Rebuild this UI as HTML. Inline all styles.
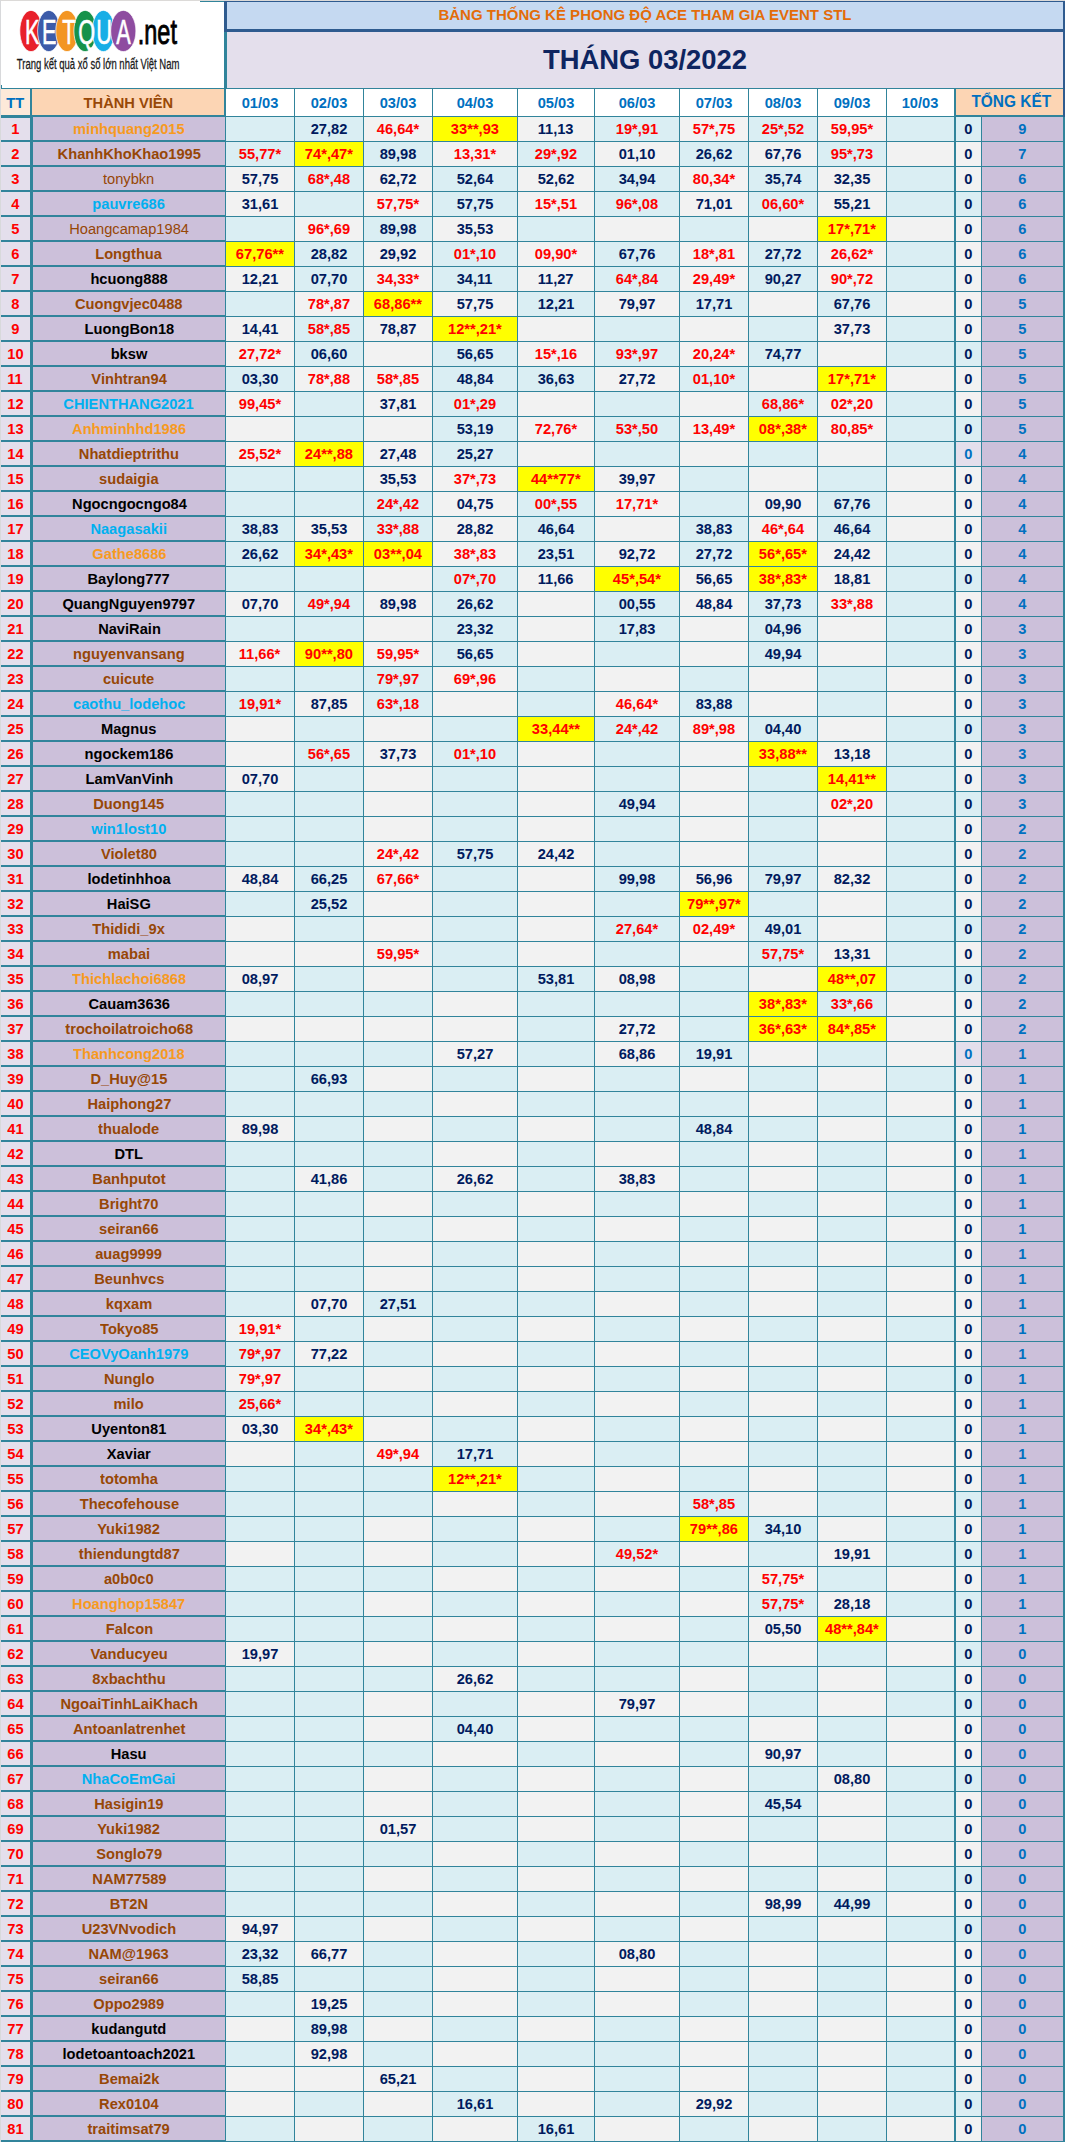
<!DOCTYPE html><html><head><meta charset="utf-8"><style>
body{margin:0;width:1065px;height:2142px;position:relative;overflow:hidden;background:#fff;font-family:"Liberation Sans",sans-serif}
div{position:absolute;box-sizing:border-box}
.r div{height:24px;line-height:24px;text-align:center;font-weight:bold;font-size:15.2px;white-space:nowrap;color:#001A5E}
.r{left:0;width:1065px;height:24px}
.n div{}
.B{background:#DAEEF3}.G{background:#F2F2F2}.Y{background:#FFFF00}.L{background:#E4DFEC}
.rd{color:#FF0000!important}
b{display:inline-block;transform:scaleX(.965);font-weight:inherit}
.k0{left:1px;width:29px}
.k1{left:33px;width:192px}
.k2{left:226px;width:68px}
.k3{left:295px;width:68px}
.k4{left:364px;width:68px}
.k5{left:433px;width:84px}
.k6{left:518px;width:76px}
.k7{left:595px;width:84px}
.k8{left:680px;width:68px}
.k9{left:749px;width:68px}
.k10{left:818px;width:68px}
.k11{left:887px;width:67px}
.k12{left:956px;width:25px}
.k13{left:982px;width:81px}
.k0{background:#E4DFEC;color:#FF0000!important;top:0;height:23px!important;line-height:23px!important}.k1{background:#CCC0DA;top:0;height:23px!important;line-height:23px!important}.f .k0{top:1px;height:22px!important;line-height:21px!important}.k13{background:#CCC0DA;color:#0070C0!important}
.cb{color:#0070C0!important}
</style></head><body><div style="left:0;top:0;width:1065px;height:1px;background:#DCDAD8"></div>
<div style="left:0;top:0;width:1px;height:2142px;background:#D8D9DB"></div>
<div style="left:1px;top:85px;width:1064px;height:2057px;background:#31849B"></div>
<div style="left:1px;top:1px;width:223px;height:87px;background:#fff"></div>
<div style="left:200px;top:1px;width:24px;height:1px;background:#31849B"></div>
<div style="left:224px;top:1px;width:841px;height:31px;background:#2F5B8F"></div>
<div style="left:227px;top:2px;width:836px;height:27px;background:#C5D9F1"></div>
<div style="left:224px;top:32px;width:3px;height:56px;background:#31849B"></div>
<div style="left:1063px;top:32px;width:2px;height:85px;background:#2F5B8F"></div>
<div style="left:227px;top:32px;width:836px;height:56px;background:#E4DFEC"></div>
<div style="left:227px;top:2px;width:836px;height:27px;line-height:25.6px;text-align:center;color:#E36C09;font-weight:bold;font-size:15px">BẢNG THỐNG KÊ PHONG ĐỘ ACE THAM GIA EVENT STL</div>
<div style="left:227px;top:32px;width:836px;height:56px;line-height:56px;text-align:center;color:#0E2560;font-weight:bold;font-size:27.4px">THÁNG 03/2022</div>
<div style="left:1px;top:89px;width:29px;height:26px;line-height:27.5px;background:#FDE9D9;color:#0070C0;text-align:center;font-weight:bold;font-size:15.2px;white-space:nowrap"><b>TT</b></div>
<div style="left:32px;top:89px;width:192px;height:26px;line-height:27.5px;background:#FCD5B4;color:#984807;text-align:center;font-weight:bold;font-size:15.2px;white-space:nowrap"><b>THÀNH VIÊN</b></div>
<div style="left:226px;top:89px;width:68px;height:27px;line-height:27.5px;background:#FFFFFF;color:#0070C0;text-align:center;font-weight:bold;font-size:15.2px;white-space:nowrap"><b>01/03</b></div>
<div style="left:295px;top:89px;width:68px;height:27px;line-height:27.5px;background:#FFFFFF;color:#0070C0;text-align:center;font-weight:bold;font-size:15.2px;white-space:nowrap"><b>02/03</b></div>
<div style="left:364px;top:89px;width:68px;height:27px;line-height:27.5px;background:#FFFFFF;color:#0070C0;text-align:center;font-weight:bold;font-size:15.2px;white-space:nowrap"><b>03/03</b></div>
<div style="left:433px;top:89px;width:84px;height:27px;line-height:27.5px;background:#FFFFFF;color:#0070C0;text-align:center;font-weight:bold;font-size:15.2px;white-space:nowrap"><b>04/03</b></div>
<div style="left:518px;top:89px;width:76px;height:27px;line-height:27.5px;background:#FFFFFF;color:#0070C0;text-align:center;font-weight:bold;font-size:15.2px;white-space:nowrap"><b>05/03</b></div>
<div style="left:595px;top:89px;width:84px;height:27px;line-height:27.5px;background:#FFFFFF;color:#0070C0;text-align:center;font-weight:bold;font-size:15.2px;white-space:nowrap"><b>06/03</b></div>
<div style="left:680px;top:89px;width:68px;height:27px;line-height:27.5px;background:#FFFFFF;color:#0070C0;text-align:center;font-weight:bold;font-size:15.2px;white-space:nowrap"><b>07/03</b></div>
<div style="left:749px;top:89px;width:68px;height:27px;line-height:27.5px;background:#FFFFFF;color:#0070C0;text-align:center;font-weight:bold;font-size:15.2px;white-space:nowrap"><b>08/03</b></div>
<div style="left:818px;top:89px;width:68px;height:27px;line-height:27.5px;background:#FFFFFF;color:#0070C0;text-align:center;font-weight:bold;font-size:15.2px;white-space:nowrap"><b>09/03</b></div>
<div style="left:887px;top:89px;width:67px;height:27px;line-height:27.5px;background:#FFFFFF;color:#0070C0;text-align:center;font-weight:bold;font-size:15.2px;white-space:nowrap"><b>10/03</b></div>
<div style="left:956px;top:89px;width:107px;height:26px;line-height:26px;background:#FCD5B4;color:#0070C0;text-align:center;font-weight:bold;font-size:15.2px;white-space:nowrap"><b><span style="letter-spacing:0;font-size:16px;padding-left:3px">TỔNG KẾT</span></b></div>
<div class="r f" style="top:117px"><div class="k0"><b>1</b></div><div class="k1" style="color:#F79A1E"><b>minhquang2015</b></div><div class="k2 B"></div><div class="k3 B"><b>27,82</b></div><div class="k4 G rd"><b>46,64*</b></div><div class="k5 Y rd"><b>33**,93</b></div><div class="k6 G"><b>11,13</b></div><div class="k7 B rd"><b>19*,91</b></div><div class="k8 G rd"><b>57*,75</b></div><div class="k9 B rd"><b>25*,52</b></div><div class="k10 G rd"><b>59,95*</b></div><div class="k11 B"></div><div class="k12 B"><b>0</b></div><div class="k13"><b>9</b></div></div>
<div class="r" style="top:142px"><div class="k0"><b>2</b></div><div class="k1" style="color:#974706"><b>KhanhKhoKhao1995</b></div><div class="k2 B rd"><b>55,77*</b></div><div class="k3 Y rd"><b>74*,47*</b></div><div class="k4 B"><b>89,98</b></div><div class="k5 G rd"><b>13,31*</b></div><div class="k6 B rd"><b>29*,92</b></div><div class="k7 G"><b>01,10</b></div><div class="k8 B"><b>26,62</b></div><div class="k9 G"><b>67,76</b></div><div class="k10 B rd"><b>95*,73</b></div><div class="k11 G"></div><div class="k12 G"><b>0</b></div><div class="k13"><b>7</b></div></div>
<div class="r" style="top:167px"><div class="k0"><b>3</b></div><div class="k1" style="color:#974706;font-weight:normal"><b>tonybkn</b></div><div class="k2 G"><b>57,75</b></div><div class="k3 B rd"><b>68*,48</b></div><div class="k4 G"><b>62,72</b></div><div class="k5 B"><b>52,64</b></div><div class="k6 G"><b>52,62</b></div><div class="k7 B"><b>34,94</b></div><div class="k8 G rd"><b>80,34*</b></div><div class="k9 B"><b>35,74</b></div><div class="k10 G"><b>32,35</b></div><div class="k11 B"></div><div class="k12 G"><b>0</b></div><div class="k13"><b>6</b></div></div>
<div class="r" style="top:192px"><div class="k0"><b>4</b></div><div class="k1" style="color:#00B0F0"><b>pauvre686</b></div><div class="k2 G"><b>31,61</b></div><div class="k3 B"></div><div class="k4 G rd"><b>57,75*</b></div><div class="k5 B"><b>57,75</b></div><div class="k6 G rd"><b>15*,51</b></div><div class="k7 B rd"><b>96*,08</b></div><div class="k8 G"><b>71,01</b></div><div class="k9 B rd"><b>06,60*</b></div><div class="k10 G"><b>55,21</b></div><div class="k11 B"></div><div class="k12 B"><b>0</b></div><div class="k13"><b>6</b></div></div>
<div class="r" style="top:217px"><div class="k0"><b>5</b></div><div class="k1" style="color:#974706;font-weight:normal"><b>Hoangcamap1984</b></div><div class="k2 B"></div><div class="k3 G rd"><b>96*,69</b></div><div class="k4 B"><b>89,98</b></div><div class="k5 G"><b>35,53</b></div><div class="k6 B"></div><div class="k7 G"></div><div class="k8 B"></div><div class="k9 G"></div><div class="k10 Y rd"><b>17*,71*</b></div><div class="k11 G"></div><div class="k12 G"><b>0</b></div><div class="k13"><b>6</b></div></div>
<div class="r" style="top:242px"><div class="k0"><b>6</b></div><div class="k1" style="color:#974706"><b>Longthua</b></div><div class="k2 Y rd"><b>67,76**</b></div><div class="k3 B"><b>28,82</b></div><div class="k4 G"><b>29,92</b></div><div class="k5 B rd"><b>01*,10</b></div><div class="k6 G rd"><b>09,90*</b></div><div class="k7 B"><b>67,76</b></div><div class="k8 G rd"><b>18*,81</b></div><div class="k9 B"><b>27,72</b></div><div class="k10 G rd"><b>26,62*</b></div><div class="k11 B"></div><div class="k12 G"><b>0</b></div><div class="k13"><b>6</b></div></div>
<div class="r" style="top:267px"><div class="k0"><b>7</b></div><div class="k1" style="color:#000000"><b>hcuong888</b></div><div class="k2 G"><b>12,21</b></div><div class="k3 B"><b>07,70</b></div><div class="k4 G rd"><b>34,33*</b></div><div class="k5 B"><b>34,11</b></div><div class="k6 G"><b>11,27</b></div><div class="k7 B rd"><b>64*,84</b></div><div class="k8 G rd"><b>29,49*</b></div><div class="k9 B"><b>90,27</b></div><div class="k10 G rd"><b>90*,72</b></div><div class="k11 B"></div><div class="k12 G"><b>0</b></div><div class="k13"><b>6</b></div></div>
<div class="r" style="top:292px"><div class="k0"><b>8</b></div><div class="k1" style="color:#974706"><b>Cuongvjec0488</b></div><div class="k2 B"></div><div class="k3 G rd"><b>78*,87</b></div><div class="k4 Y rd"><b>68,86**</b></div><div class="k5 G"><b>57,75</b></div><div class="k6 B"><b>12,21</b></div><div class="k7 G"><b>79,97</b></div><div class="k8 B"><b>17,71</b></div><div class="k9 G"></div><div class="k10 B"><b>67,76</b></div><div class="k11 G"></div><div class="k12 G"><b>0</b></div><div class="k13"><b>5</b></div></div>
<div class="r" style="top:317px"><div class="k0"><b>9</b></div><div class="k1" style="color:#000000"><b>LuongBon18</b></div><div class="k2 G"><b>14,41</b></div><div class="k3 B rd"><b>58*,85</b></div><div class="k4 G"><b>78,87</b></div><div class="k5 Y rd"><b>12**,21*</b></div><div class="k6 G"></div><div class="k7 B"></div><div class="k8 G"></div><div class="k9 B"></div><div class="k10 G"><b>37,73</b></div><div class="k11 B"></div><div class="k12 G"><b>0</b></div><div class="k13"><b>5</b></div></div>
<div class="r" style="top:342px"><div class="k0"><b>10</b></div><div class="k1" style="color:#000000"><b>bksw</b></div><div class="k2 G rd"><b>27,72*</b></div><div class="k3 B"><b>06,60</b></div><div class="k4 G"></div><div class="k5 B"><b>56,65</b></div><div class="k6 G rd"><b>15*,16</b></div><div class="k7 B rd"><b>93*,97</b></div><div class="k8 G rd"><b>20,24*</b></div><div class="k9 B"><b>74,77</b></div><div class="k10 G"></div><div class="k11 B"></div><div class="k12 B"><b>0</b></div><div class="k13"><b>5</b></div></div>
<div class="r" style="top:367px"><div class="k0"><b>11</b></div><div class="k1" style="color:#974706"><b>Vinhtran94</b></div><div class="k2 B"><b>03,30</b></div><div class="k3 G rd"><b>78*,88</b></div><div class="k4 G rd"><b>58*,85</b></div><div class="k5 B"><b>48,84</b></div><div class="k6 B"><b>36,63</b></div><div class="k7 G"><b>27,72</b></div><div class="k8 B rd"><b>01,10*</b></div><div class="k9 G"></div><div class="k10 Y rd"><b>17*,71*</b></div><div class="k11 G"></div><div class="k12 G"><b>0</b></div><div class="k13"><b>5</b></div></div>
<div class="r" style="top:392px"><div class="k0"><b>12</b></div><div class="k1" style="color:#00B0F0"><b>CHIENTHANG2021</b></div><div class="k2 G rd"><b>99,45*</b></div><div class="k3 B"></div><div class="k4 G"><b>37,81</b></div><div class="k5 B rd"><b>01*,29</b></div><div class="k6 G"></div><div class="k7 B"></div><div class="k8 G"></div><div class="k9 B rd"><b>68,86*</b></div><div class="k10 G rd"><b>02*,20</b></div><div class="k11 B"></div><div class="k12 G"><b>0</b></div><div class="k13"><b>5</b></div></div>
<div class="r" style="top:417px"><div class="k0"><b>13</b></div><div class="k1" style="color:#F79A1E"><b>Anhminhhd1986</b></div><div class="k2 G"></div><div class="k3 B"></div><div class="k4 G"></div><div class="k5 B"><b>53,19</b></div><div class="k6 G rd"><b>72,76*</b></div><div class="k7 B rd"><b>53*,50</b></div><div class="k8 G rd"><b>13,49*</b></div><div class="k9 Y rd"><b>08*,38*</b></div><div class="k10 G rd"><b>80,85*</b></div><div class="k11 B"></div><div class="k12 B"><b>0</b></div><div class="k13"><b>5</b></div></div>
<div class="r" style="top:442px"><div class="k0"><b>14</b></div><div class="k1" style="color:#974706"><b>Nhatdieptrithu</b></div><div class="k2 G rd"><b>25,52*</b></div><div class="k3 Y rd"><b>24**,88</b></div><div class="k4 G"><b>27,48</b></div><div class="k5 B"><b>25,27</b></div><div class="k6 G"></div><div class="k7 B"></div><div class="k8 G"></div><div class="k9 B"></div><div class="k10 G"></div><div class="k11 B"></div><div class="k12 L cb"><b>0</b></div><div class="k13"><b>4</b></div></div>
<div class="r" style="top:467px"><div class="k0"><b>15</b></div><div class="k1" style="color:#974706"><b>sudaigia</b></div><div class="k2 B"></div><div class="k3 B"></div><div class="k4 G"><b>35,53</b></div><div class="k5 G rd"><b>37*,73</b></div><div class="k6 Y rd"><b>44**77*</b></div><div class="k7 G"><b>39,97</b></div><div class="k8 B"></div><div class="k9 G"></div><div class="k10 B"></div><div class="k11 G"></div><div class="k12 G"><b>0</b></div><div class="k13"><b>4</b></div></div>
<div class="r" style="top:492px"><div class="k0"><b>16</b></div><div class="k1" style="color:#000000"><b>Ngocngocngo84</b></div><div class="k2 B"></div><div class="k3 B"></div><div class="k4 B rd"><b>24*,42</b></div><div class="k5 G"><b>04,75</b></div><div class="k6 B rd"><b>00*,55</b></div><div class="k7 G rd"><b>17,71*</b></div><div class="k8 B"></div><div class="k9 G"><b>09,90</b></div><div class="k10 B"><b>67,76</b></div><div class="k11 G"></div><div class="k12 G"><b>0</b></div><div class="k13"><b>4</b></div></div>
<div class="r" style="top:517px"><div class="k0"><b>17</b></div><div class="k1" style="color:#00B0F0"><b>Naagasakii</b></div><div class="k2 B"><b>38,83</b></div><div class="k3 G"><b>35,53</b></div><div class="k4 B rd"><b>33*,88</b></div><div class="k5 G"><b>28,82</b></div><div class="k6 B"><b>46,64</b></div><div class="k7 G"></div><div class="k8 B"><b>38,83</b></div><div class="k9 G rd"><b>46*,64</b></div><div class="k10 B"><b>46,64</b></div><div class="k11 G"></div><div class="k12 G"><b>0</b></div><div class="k13"><b>4</b></div></div>
<div class="r" style="top:542px"><div class="k0"><b>18</b></div><div class="k1" style="color:#F79A1E"><b>Gathe8686</b></div><div class="k2 B"><b>26,62</b></div><div class="k3 Y rd"><b>34*,43*</b></div><div class="k4 Y rd"><b>03**,04</b></div><div class="k5 G rd"><b>38*,83</b></div><div class="k6 B"><b>23,51</b></div><div class="k7 G"><b>92,72</b></div><div class="k8 B"><b>27,72</b></div><div class="k9 Y rd"><b>56*,65*</b></div><div class="k10 G"><b>24,42</b></div><div class="k11 B"></div><div class="k12 G"><b>0</b></div><div class="k13"><b>4</b></div></div>
<div class="r" style="top:567px"><div class="k0"><b>19</b></div><div class="k1" style="color:#000000"><b>Baylong777</b></div><div class="k2 B"></div><div class="k3 B"></div><div class="k4 G"></div><div class="k5 B rd"><b>07*,70</b></div><div class="k6 G"><b>11,66</b></div><div class="k7 Y rd"><b>45*,54*</b></div><div class="k8 G"><b>56,65</b></div><div class="k9 Y rd"><b>38*,83*</b></div><div class="k10 G"><b>18,81</b></div><div class="k11 B"></div><div class="k12 B"><b>0</b></div><div class="k13"><b>4</b></div></div>
<div class="r" style="top:592px"><div class="k0"><b>20</b></div><div class="k1" style="color:#000000"><b>QuangNguyen9797</b></div><div class="k2 G"><b>07,70</b></div><div class="k3 B rd"><b>49*,94</b></div><div class="k4 G"><b>89,98</b></div><div class="k5 B"><b>26,62</b></div><div class="k6 G"></div><div class="k7 B"><b>00,55</b></div><div class="k8 G"><b>48,84</b></div><div class="k9 B"><b>37,73</b></div><div class="k10 G rd"><b>33*,88</b></div><div class="k11 B"></div><div class="k12 G"><b>0</b></div><div class="k13"><b>4</b></div></div>
<div class="r" style="top:617px"><div class="k0"><b>21</b></div><div class="k1" style="color:#000000"><b>NaviRain</b></div><div class="k2 B"></div><div class="k3 B"></div><div class="k4 G"></div><div class="k5 B"><b>23,32</b></div><div class="k6 G"></div><div class="k7 B"><b>17,83</b></div><div class="k8 G"></div><div class="k9 B"><b>04,96</b></div><div class="k10 G"></div><div class="k11 B"></div><div class="k12 G"><b>0</b></div><div class="k13"><b>3</b></div></div>
<div class="r" style="top:642px"><div class="k0"><b>22</b></div><div class="k1" style="color:#974706"><b>nguyenvansang</b></div><div class="k2 G rd"><b>11,66*</b></div><div class="k3 Y rd"><b>90**,80</b></div><div class="k4 G rd"><b>59,95*</b></div><div class="k5 B"><b>56,65</b></div><div class="k6 G"></div><div class="k7 B"></div><div class="k8 G"></div><div class="k9 B"><b>49,94</b></div><div class="k10 G"></div><div class="k11 B"></div><div class="k12 G"><b>0</b></div><div class="k13"><b>3</b></div></div>
<div class="r" style="top:667px"><div class="k0"><b>23</b></div><div class="k1" style="color:#974706"><b>cuicute</b></div><div class="k2 B"></div><div class="k3 B"></div><div class="k4 B rd"><b>79*,97</b></div><div class="k5 G rd"><b>69*,96</b></div><div class="k6 B"></div><div class="k7 G"></div><div class="k8 B"></div><div class="k9 G"></div><div class="k10 B"></div><div class="k11 G"></div><div class="k12 G"><b>0</b></div><div class="k13"><b>3</b></div></div>
<div class="r" style="top:692px"><div class="k0"><b>24</b></div><div class="k1" style="color:#00B0F0"><b>caothu_lodehoc</b></div><div class="k2 B rd"><b>19,91*</b></div><div class="k3 G"><b>87,85</b></div><div class="k4 B rd"><b>63*,18</b></div><div class="k5 G"></div><div class="k6 B"></div><div class="k7 G rd"><b>46,64*</b></div><div class="k8 B"><b>83,88</b></div><div class="k9 G"></div><div class="k10 B"></div><div class="k11 G"></div><div class="k12 G"><b>0</b></div><div class="k13"><b>3</b></div></div>
<div class="r" style="top:717px"><div class="k0"><b>25</b></div><div class="k1" style="color:#000000"><b>Magnus</b></div><div class="k2 G"></div><div class="k3 B"></div><div class="k4 G"></div><div class="k5 B"></div><div class="k6 Y rd"><b>33,44**</b></div><div class="k7 B rd"><b>24*,42</b></div><div class="k8 G rd"><b>89*,98</b></div><div class="k9 B"><b>04,40</b></div><div class="k10 G"></div><div class="k11 B"></div><div class="k12 B"><b>0</b></div><div class="k13"><b>3</b></div></div>
<div class="r" style="top:742px"><div class="k0"><b>26</b></div><div class="k1" style="color:#000000"><b>ngockem186</b></div><div class="k2 G"></div><div class="k3 B rd"><b>56*,65</b></div><div class="k4 G"><b>37,73</b></div><div class="k5 B rd"><b>01*,10</b></div><div class="k6 G"></div><div class="k7 B"></div><div class="k8 G"></div><div class="k9 Y rd"><b>33,88**</b></div><div class="k10 G"><b>13,18</b></div><div class="k11 B"></div><div class="k12 G"><b>0</b></div><div class="k13"><b>3</b></div></div>
<div class="r" style="top:767px"><div class="k0"><b>27</b></div><div class="k1" style="color:#000000"><b>LamVanVinh</b></div><div class="k2 G"><b>07,70</b></div><div class="k3 B"></div><div class="k4 G"></div><div class="k5 B"></div><div class="k6 G"></div><div class="k7 B"></div><div class="k8 G"></div><div class="k9 B"></div><div class="k10 Y rd"><b>14,41**</b></div><div class="k11 B"></div><div class="k12 G"><b>0</b></div><div class="k13"><b>3</b></div></div>
<div class="r" style="top:792px"><div class="k0"><b>28</b></div><div class="k1" style="color:#974706"><b>Duong145</b></div><div class="k2 B"></div><div class="k3 B"></div><div class="k4 G"></div><div class="k5 B"></div><div class="k6 G"></div><div class="k7 B"><b>49,94</b></div><div class="k8 G"></div><div class="k9 B"></div><div class="k10 G rd"><b>02*,20</b></div><div class="k11 B"></div><div class="k12 B"><b>0</b></div><div class="k13"><b>3</b></div></div>
<div class="r" style="top:817px"><div class="k0"><b>29</b></div><div class="k1" style="color:#00B0F0"><b>win1lost10</b></div><div class="k2 B"></div><div class="k3 B"></div><div class="k4 G"></div><div class="k5 B"></div><div class="k6 G"></div><div class="k7 B"></div><div class="k8 G"></div><div class="k9 B"></div><div class="k10 G"></div><div class="k11 B"></div><div class="k12 G"><b>0</b></div><div class="k13"><b>2</b></div></div>
<div class="r" style="top:842px"><div class="k0"><b>30</b></div><div class="k1" style="color:#974706"><b>Violet80</b></div><div class="k2 B"></div><div class="k3 B"></div><div class="k4 G rd"><b>24*,42</b></div><div class="k5 B"><b>57,75</b></div><div class="k6 G"><b>24,42</b></div><div class="k7 B"></div><div class="k8 G"></div><div class="k9 B"></div><div class="k10 G"></div><div class="k11 B"></div><div class="k12 G"><b>0</b></div><div class="k13"><b>2</b></div></div>
<div class="r" style="top:867px"><div class="k0"><b>31</b></div><div class="k1" style="color:#000000"><b>lodetinhhoa</b></div><div class="k2 G"><b>48,84</b></div><div class="k3 B"><b>66,25</b></div><div class="k4 G rd"><b>67,66*</b></div><div class="k5 B"></div><div class="k6 G"></div><div class="k7 B"><b>99,98</b></div><div class="k8 G"><b>56,96</b></div><div class="k9 B"><b>79,97</b></div><div class="k10 G"><b>82,32</b></div><div class="k11 B"></div><div class="k12 G"><b>0</b></div><div class="k13"><b>2</b></div></div>
<div class="r" style="top:892px"><div class="k0"><b>32</b></div><div class="k1" style="color:#000000"><b>HaiSG</b></div><div class="k2 B"></div><div class="k3 B"><b>25,52</b></div><div class="k4 G"></div><div class="k5 B"></div><div class="k6 G"></div><div class="k7 B"></div><div class="k8 Y rd"><b>79**,97*</b></div><div class="k9 B"></div><div class="k10 G"></div><div class="k11 B"></div><div class="k12 G"><b>0</b></div><div class="k13"><b>2</b></div></div>
<div class="r" style="top:917px"><div class="k0"><b>33</b></div><div class="k1" style="color:#974706"><b>Thididi_9x</b></div><div class="k2 G"></div><div class="k3 B"></div><div class="k4 G"></div><div class="k5 B"></div><div class="k6 G"></div><div class="k7 B rd"><b>27,64*</b></div><div class="k8 G rd"><b>02,49*</b></div><div class="k9 B"><b>49,01</b></div><div class="k10 G"></div><div class="k11 B"></div><div class="k12 B"><b>0</b></div><div class="k13"><b>2</b></div></div>
<div class="r" style="top:942px"><div class="k0"><b>34</b></div><div class="k1" style="color:#974706"><b>mabai</b></div><div class="k2 G"></div><div class="k3 G"></div><div class="k4 G rd"><b>59,95*</b></div><div class="k5 B"></div><div class="k6 G"></div><div class="k7 B"></div><div class="k8 G"></div><div class="k9 B rd"><b>57,75*</b></div><div class="k10 G"><b>13,31</b></div><div class="k11 B"></div><div class="k12 G"><b>0</b></div><div class="k13"><b>2</b></div></div>
<div class="r" style="top:967px"><div class="k0"><b>35</b></div><div class="k1" style="color:#F79A1E"><b>Thichlachoi6868</b></div><div class="k2 G"><b>08,97</b></div><div class="k3 B"></div><div class="k4 G"></div><div class="k5 B"></div><div class="k6 B"><b>53,81</b></div><div class="k7 G"><b>08,98</b></div><div class="k8 B"></div><div class="k9 G"></div><div class="k10 Y rd"><b>48**,07</b></div><div class="k11 B"></div><div class="k12 B"><b>0</b></div><div class="k13"><b>2</b></div></div>
<div class="r" style="top:992px"><div class="k0"><b>36</b></div><div class="k1" style="color:#000000"><b>Cauam3636</b></div><div class="k2 B"></div><div class="k3 B"></div><div class="k4 B"></div><div class="k5 G"></div><div class="k6 B"></div><div class="k7 B"></div><div class="k8 B"></div><div class="k9 Y rd"><b>38*,83*</b></div><div class="k10 B rd"><b>33*,66</b></div><div class="k11 G"></div><div class="k12 G"><b>0</b></div><div class="k13"><b>2</b></div></div>
<div class="r" style="top:1017px"><div class="k0"><b>37</b></div><div class="k1" style="color:#974706"><b>trochoilatroicho68</b></div><div class="k2 G"></div><div class="k3 G"></div><div class="k4 G"></div><div class="k5 G"></div><div class="k6 B"></div><div class="k7 G"><b>27,72</b></div><div class="k8 B"></div><div class="k9 Y rd"><b>36*,63*</b></div><div class="k10 Y rd"><b>84*,85*</b></div><div class="k11 G"></div><div class="k12 G"><b>0</b></div><div class="k13"><b>2</b></div></div>
<div class="r" style="top:1042px"><div class="k0"><b>38</b></div><div class="k1" style="color:#F79A1E"><b>Thanhcong2018</b></div><div class="k2 B"></div><div class="k3 B"></div><div class="k4 B"></div><div class="k5 G"><b>57,27</b></div><div class="k6 B"></div><div class="k7 G"><b>68,86</b></div><div class="k8 B"><b>19,91</b></div><div class="k9 G"></div><div class="k10 B"></div><div class="k11 G"></div><div class="k12 L cb"><b>0</b></div><div class="k13"><b>1</b></div></div>
<div class="r" style="top:1067px"><div class="k0"><b>39</b></div><div class="k1" style="color:#974706"><b>D_Huy@15</b></div><div class="k2 B"></div><div class="k3 B"><b>66,93</b></div><div class="k4 G"></div><div class="k5 B"></div><div class="k6 G"></div><div class="k7 B"></div><div class="k8 G"></div><div class="k9 B"></div><div class="k10 G"></div><div class="k11 B"></div><div class="k12 G"><b>0</b></div><div class="k13"><b>1</b></div></div>
<div class="r" style="top:1092px"><div class="k0"><b>40</b></div><div class="k1" style="color:#974706"><b>Haiphong27</b></div><div class="k2 B"></div><div class="k3 B"></div><div class="k4 B"></div><div class="k5 G"></div><div class="k6 B"></div><div class="k7 B"></div><div class="k8 B"></div><div class="k9 G"></div><div class="k10 B"></div><div class="k11 G"></div><div class="k12 G"><b>0</b></div><div class="k13"><b>1</b></div></div>
<div class="r" style="top:1117px"><div class="k0"><b>41</b></div><div class="k1" style="color:#974706"><b>thualode</b></div><div class="k2 G"><b>89,98</b></div><div class="k3 B"></div><div class="k4 G"></div><div class="k5 B"></div><div class="k6 G"></div><div class="k7 B"></div><div class="k8 B"><b>48,84</b></div><div class="k9 B"></div><div class="k10 G"></div><div class="k11 B"></div><div class="k12 G"><b>0</b></div><div class="k13"><b>1</b></div></div>
<div class="r" style="top:1142px"><div class="k0"><b>42</b></div><div class="k1" style="color:#000000"><b>DTL</b></div><div class="k2 B"></div><div class="k3 B"></div><div class="k4 B"></div><div class="k5 G"></div><div class="k6 B"></div><div class="k7 G"></div><div class="k8 B"></div><div class="k9 G"></div><div class="k10 B"></div><div class="k11 G"></div><div class="k12 G"><b>0</b></div><div class="k13"><b>1</b></div></div>
<div class="r" style="top:1167px"><div class="k0"><b>43</b></div><div class="k1" style="color:#974706"><b>Banhputot</b></div><div class="k2 B"></div><div class="k3 G"><b>41,86</b></div><div class="k4 B"></div><div class="k5 G"><b>26,62</b></div><div class="k6 B"></div><div class="k7 G"><b>38,83</b></div><div class="k8 B"></div><div class="k9 G"></div><div class="k10 B"></div><div class="k11 G"></div><div class="k12 G"><b>0</b></div><div class="k13"><b>1</b></div></div>
<div class="r" style="top:1192px"><div class="k0"><b>44</b></div><div class="k1" style="color:#974706"><b>Bright70</b></div><div class="k2 B"></div><div class="k3 B"></div><div class="k4 G"></div><div class="k5 B"></div><div class="k6 G"></div><div class="k7 B"></div><div class="k8 G"></div><div class="k9 B"></div><div class="k10 G"></div><div class="k11 B"></div><div class="k12 G"><b>0</b></div><div class="k13"><b>1</b></div></div>
<div class="r" style="top:1217px"><div class="k0"><b>45</b></div><div class="k1" style="color:#974706"><b>seiran66</b></div><div class="k2 B"></div><div class="k3 B"></div><div class="k4 B"></div><div class="k5 G"></div><div class="k6 B"></div><div class="k7 G"></div><div class="k8 B"></div><div class="k9 G"></div><div class="k10 B"></div><div class="k11 G"></div><div class="k12 G"><b>0</b></div><div class="k13"><b>1</b></div></div>
<div class="r" style="top:1242px"><div class="k0"><b>46</b></div><div class="k1" style="color:#974706"><b>auag9999</b></div><div class="k2 B"></div><div class="k3 B"></div><div class="k4 G"></div><div class="k5 B"></div><div class="k6 G"></div><div class="k7 B"></div><div class="k8 G"></div><div class="k9 B"></div><div class="k10 G"></div><div class="k11 B"></div><div class="k12 G"><b>0</b></div><div class="k13"><b>1</b></div></div>
<div class="r" style="top:1267px"><div class="k0"><b>47</b></div><div class="k1" style="color:#974706"><b>Beunhvcs</b></div><div class="k2 B"></div><div class="k3 B"></div><div class="k4 G"></div><div class="k5 B"></div><div class="k6 G"></div><div class="k7 B"></div><div class="k8 B"></div><div class="k9 G"></div><div class="k10 B"></div><div class="k11 G"></div><div class="k12 G"><b>0</b></div><div class="k13"><b>1</b></div></div>
<div class="r" style="top:1292px"><div class="k0"><b>48</b></div><div class="k1" style="color:#974706"><b>kqxam</b></div><div class="k2 B"></div><div class="k3 G"><b>07,70</b></div><div class="k4 B"><b>27,51</b></div><div class="k5 B"></div><div class="k6 B"></div><div class="k7 G"></div><div class="k8 B"></div><div class="k9 G"></div><div class="k10 B"></div><div class="k11 G"></div><div class="k12 G"><b>0</b></div><div class="k13"><b>1</b></div></div>
<div class="r" style="top:1317px"><div class="k0"><b>49</b></div><div class="k1" style="color:#974706"><b>Tokyo85</b></div><div class="k2 G rd"><b>19,91*</b></div><div class="k3 B"></div><div class="k4 G"></div><div class="k5 B"></div><div class="k6 G"></div><div class="k7 B"></div><div class="k8 G"></div><div class="k9 B"></div><div class="k10 G"></div><div class="k11 B"></div><div class="k12 G"><b>0</b></div><div class="k13"><b>1</b></div></div>
<div class="r" style="top:1342px"><div class="k0"><b>50</b></div><div class="k1" style="color:#00B0F0"><b>CEOVyOanh1979</b></div><div class="k2 B rd"><b>79*,97</b></div><div class="k3 G"><b>77,22</b></div><div class="k4 B"></div><div class="k5 G"></div><div class="k6 B"></div><div class="k7 G"></div><div class="k8 B"></div><div class="k9 G"></div><div class="k10 B"></div><div class="k11 G"></div><div class="k12 G"><b>0</b></div><div class="k13"><b>1</b></div></div>
<div class="r" style="top:1367px"><div class="k0"><b>51</b></div><div class="k1" style="color:#974706"><b>Nunglo</b></div><div class="k2 G rd"><b>79*,97</b></div><div class="k3 B"></div><div class="k4 G"></div><div class="k5 B"></div><div class="k6 G"></div><div class="k7 B"></div><div class="k8 G"></div><div class="k9 B"></div><div class="k10 G"></div><div class="k11 B"></div><div class="k12 B"><b>0</b></div><div class="k13"><b>1</b></div></div>
<div class="r" style="top:1392px"><div class="k0"><b>52</b></div><div class="k1" style="color:#974706"><b>milo</b></div><div class="k2 B rd"><b>25,66*</b></div><div class="k3 B"></div><div class="k4 B"></div><div class="k5 G"></div><div class="k6 B"></div><div class="k7 G"></div><div class="k8 B"></div><div class="k9 G"></div><div class="k10 B"></div><div class="k11 G"></div><div class="k12 G"><b>0</b></div><div class="k13"><b>1</b></div></div>
<div class="r" style="top:1417px"><div class="k0"><b>53</b></div><div class="k1" style="color:#000000"><b>Uyenton81</b></div><div class="k2 G"><b>03,30</b></div><div class="k3 Y rd"><b>34*,43*</b></div><div class="k4 G"></div><div class="k5 B"></div><div class="k6 G"></div><div class="k7 B"></div><div class="k8 G"></div><div class="k9 B"></div><div class="k10 G"></div><div class="k11 B"></div><div class="k12 G"><b>0</b></div><div class="k13"><b>1</b></div></div>
<div class="r" style="top:1442px"><div class="k0"><b>54</b></div><div class="k1" style="color:#000000"><b>Xaviar</b></div><div class="k2 G"></div><div class="k3 B"></div><div class="k4 G rd"><b>49*,94</b></div><div class="k5 B"><b>17,71</b></div><div class="k6 G"></div><div class="k7 B"></div><div class="k8 G"></div><div class="k9 B"></div><div class="k10 B"></div><div class="k11 G"></div><div class="k12 G"><b>0</b></div><div class="k13"><b>1</b></div></div>
<div class="r" style="top:1467px"><div class="k0"><b>55</b></div><div class="k1" style="color:#974706"><b>totomha</b></div><div class="k2 B"></div><div class="k3 B"></div><div class="k4 B"></div><div class="k5 Y rd"><b>12**,21*</b></div><div class="k6 B"></div><div class="k7 G"></div><div class="k8 B"></div><div class="k9 G"></div><div class="k10 B"></div><div class="k11 G"></div><div class="k12 G"><b>0</b></div><div class="k13"><b>1</b></div></div>
<div class="r" style="top:1492px"><div class="k0"><b>56</b></div><div class="k1" style="color:#974706"><b>Thecofehouse</b></div><div class="k2 B"></div><div class="k3 B"></div><div class="k4 B"></div><div class="k5 G"></div><div class="k6 B"></div><div class="k7 G"></div><div class="k8 B rd"><b>58*,85</b></div><div class="k9 G"></div><div class="k10 B"></div><div class="k11 G"></div><div class="k12 B"><b>0</b></div><div class="k13"><b>1</b></div></div>
<div class="r" style="top:1517px"><div class="k0"><b>57</b></div><div class="k1" style="color:#974706"><b>Yuki1982</b></div><div class="k2 B"></div><div class="k3 B"></div><div class="k4 G"></div><div class="k5 B"></div><div class="k6 G"></div><div class="k7 B"></div><div class="k8 Y rd"><b>79**,86</b></div><div class="k9 B"><b>34,10</b></div><div class="k10 G"></div><div class="k11 B"></div><div class="k12 G"><b>0</b></div><div class="k13"><b>1</b></div></div>
<div class="r" style="top:1542px"><div class="k0"><b>58</b></div><div class="k1" style="color:#974706"><b>thiendungtd87</b></div><div class="k2 G"></div><div class="k3 B"></div><div class="k4 G"></div><div class="k5 B"></div><div class="k6 G"></div><div class="k7 B rd"><b>49,52*</b></div><div class="k8 G"></div><div class="k9 B"></div><div class="k10 G"><b>19,91</b></div><div class="k11 B"></div><div class="k12 B"><b>0</b></div><div class="k13"><b>1</b></div></div>
<div class="r" style="top:1567px"><div class="k0"><b>59</b></div><div class="k1" style="color:#974706"><b>a0b0c0</b></div><div class="k2 B"></div><div class="k3 B"></div><div class="k4 B"></div><div class="k5 G"></div><div class="k6 B"></div><div class="k7 G"></div><div class="k8 B"></div><div class="k9 G rd"><b>57,75*</b></div><div class="k10 B"></div><div class="k11 G"></div><div class="k12 G"><b>0</b></div><div class="k13"><b>1</b></div></div>
<div class="r" style="top:1592px"><div class="k0"><b>60</b></div><div class="k1" style="color:#F79A1E"><b>Hoanghop15847</b></div><div class="k2 B"></div><div class="k3 B"></div><div class="k4 G"></div><div class="k5 B"></div><div class="k6 G"></div><div class="k7 B"></div><div class="k8 G"></div><div class="k9 B rd"><b>57,75*</b></div><div class="k10 G"><b>28,18</b></div><div class="k11 B"></div><div class="k12 B"><b>0</b></div><div class="k13"><b>1</b></div></div>
<div class="r" style="top:1617px"><div class="k0"><b>61</b></div><div class="k1" style="color:#974706"><b>Falcon</b></div><div class="k2 B"></div><div class="k3 B"></div><div class="k4 B"></div><div class="k5 G"></div><div class="k6 B"></div><div class="k7 G"></div><div class="k8 B"></div><div class="k9 G"><b>05,50</b></div><div class="k10 Y rd"><b>48**,84*</b></div><div class="k11 G"></div><div class="k12 G"><b>0</b></div><div class="k13"><b>1</b></div></div>
<div class="r" style="top:1642px"><div class="k0"><b>62</b></div><div class="k1" style="color:#974706"><b>Vanducyeu</b></div><div class="k2 G"><b>19,97</b></div><div class="k3 B"></div><div class="k4 G"></div><div class="k5 B"></div><div class="k6 G"></div><div class="k7 B"></div><div class="k8 B"></div><div class="k9 G"></div><div class="k10 B"></div><div class="k11 G"></div><div class="k12 B"><b>0</b></div><div class="k13"><b>0</b></div></div>
<div class="r" style="top:1667px"><div class="k0"><b>63</b></div><div class="k1" style="color:#974706"><b>8xbachthu</b></div><div class="k2 B"></div><div class="k3 B"></div><div class="k4 B"></div><div class="k5 G"><b>26,62</b></div><div class="k6 B"></div><div class="k7 B"></div><div class="k8 G"></div><div class="k9 B"></div><div class="k10 G"></div><div class="k11 B"></div><div class="k12 G"><b>0</b></div><div class="k13"><b>0</b></div></div>
<div class="r" style="top:1692px"><div class="k0"><b>64</b></div><div class="k1" style="color:#974706"><b>NgoaiTinhLaiKhach</b></div><div class="k2 B"></div><div class="k3 B"></div><div class="k4 G"></div><div class="k5 B"></div><div class="k6 G"></div><div class="k7 G"><b>79,97</b></div><div class="k8 G"></div><div class="k9 B"></div><div class="k10 G"></div><div class="k11 B"></div><div class="k12 B"><b>0</b></div><div class="k13"><b>0</b></div></div>
<div class="r" style="top:1717px"><div class="k0"><b>65</b></div><div class="k1" style="color:#974706"><b>Antoanlatrenhet</b></div><div class="k2 B"></div><div class="k3 B"></div><div class="k4 G"></div><div class="k5 B"><b>04,40</b></div><div class="k6 G"></div><div class="k7 B"></div><div class="k8 B"></div><div class="k9 G"></div><div class="k10 B"></div><div class="k11 G"></div><div class="k12 G"><b>0</b></div><div class="k13"><b>0</b></div></div>
<div class="r" style="top:1742px"><div class="k0"><b>66</b></div><div class="k1" style="color:#000000"><b>Hasu</b></div><div class="k2 B"></div><div class="k3 B"></div><div class="k4 B"></div><div class="k5 G"></div><div class="k6 B"></div><div class="k7 G"></div><div class="k8 B"></div><div class="k9 G"><b>90,97</b></div><div class="k10 B"></div><div class="k11 G"></div><div class="k12 G"><b>0</b></div><div class="k13"><b>0</b></div></div>
<div class="r" style="top:1767px"><div class="k0"><b>67</b></div><div class="k1" style="color:#00B0F0"><b>NhaCoEmGai</b></div><div class="k2 B"></div><div class="k3 B"></div><div class="k4 G"></div><div class="k5 B"></div><div class="k6 G"></div><div class="k7 B"></div><div class="k8 G"></div><div class="k9 B"></div><div class="k10 G"><b>08,80</b></div><div class="k11 B"></div><div class="k12 B"><b>0</b></div><div class="k13"><b>0</b></div></div>
<div class="r" style="top:1792px"><div class="k0"><b>68</b></div><div class="k1" style="color:#974706"><b>Hasigin19</b></div><div class="k2 B"></div><div class="k3 B"></div><div class="k4 G"></div><div class="k5 B"></div><div class="k6 G"></div><div class="k7 B"></div><div class="k8 G"></div><div class="k9 B"><b>45,54</b></div><div class="k10 G"></div><div class="k11 B"></div><div class="k12 G"><b>0</b></div><div class="k13"><b>0</b></div></div>
<div class="r" style="top:1817px"><div class="k0"><b>69</b></div><div class="k1" style="color:#974706"><b>Yuki1982</b></div><div class="k2 B"></div><div class="k3 B"></div><div class="k4 G"><b>01,57</b></div><div class="k5 B"></div><div class="k6 G"></div><div class="k7 B"></div><div class="k8 G"></div><div class="k9 B"></div><div class="k10 G"></div><div class="k11 B"></div><div class="k12 G"><b>0</b></div><div class="k13"><b>0</b></div></div>
<div class="r" style="top:1842px"><div class="k0"><b>70</b></div><div class="k1" style="color:#974706"><b>Songlo79</b></div><div class="k2 B"></div><div class="k3 B"></div><div class="k4 B"></div><div class="k5 G"></div><div class="k6 B"></div><div class="k7 G"></div><div class="k8 B"></div><div class="k9 G"></div><div class="k10 B"></div><div class="k11 G"></div><div class="k12 G"><b>0</b></div><div class="k13"><b>0</b></div></div>
<div class="r" style="top:1867px"><div class="k0"><b>71</b></div><div class="k1" style="color:#974706"><b>NAM77589</b></div><div class="k2 B"></div><div class="k3 B"></div><div class="k4 G"></div><div class="k5 B"></div><div class="k6 G"></div><div class="k7 B"></div><div class="k8 G"></div><div class="k9 B"></div><div class="k10 G"></div><div class="k11 B"></div><div class="k12 B"><b>0</b></div><div class="k13"><b>0</b></div></div>
<div class="r" style="top:1892px"><div class="k0"><b>72</b></div><div class="k1" style="color:#974706"><b>BT2N</b></div><div class="k2 B"></div><div class="k3 B"></div><div class="k4 B"></div><div class="k5 G"></div><div class="k6 B"></div><div class="k7 G"></div><div class="k8 B"></div><div class="k9 G"><b>98,99</b></div><div class="k10 B"><b>44,99</b></div><div class="k11 G"></div><div class="k12 G"><b>0</b></div><div class="k13"><b>0</b></div></div>
<div class="r" style="top:1917px"><div class="k0"><b>73</b></div><div class="k1" style="color:#974706"><b>U23VNvodich</b></div><div class="k2 G"><b>94,97</b></div><div class="k3 B"></div><div class="k4 G"></div><div class="k5 B"></div><div class="k6 G"></div><div class="k7 B"></div><div class="k8 G"></div><div class="k9 B"></div><div class="k10 G"></div><div class="k11 B"></div><div class="k12 B"><b>0</b></div><div class="k13"><b>0</b></div></div>
<div class="r" style="top:1942px"><div class="k0"><b>74</b></div><div class="k1" style="color:#974706"><b>NAM@1963</b></div><div class="k2 B"><b>23,32</b></div><div class="k3 G"><b>66,77</b></div><div class="k4 B"></div><div class="k5 G"></div><div class="k6 B"></div><div class="k7 G"><b>08,80</b></div><div class="k8 B"></div><div class="k9 G"></div><div class="k10 B"></div><div class="k11 G"></div><div class="k12 G"><b>0</b></div><div class="k13"><b>0</b></div></div>
<div class="r" style="top:1967px"><div class="k0"><b>75</b></div><div class="k1" style="color:#974706"><b>seiran66</b></div><div class="k2 B"><b>58,85</b></div><div class="k3 B"></div><div class="k4 B"></div><div class="k5 G"></div><div class="k6 B"></div><div class="k7 G"></div><div class="k8 B"></div><div class="k9 G"></div><div class="k10 B"></div><div class="k11 G"></div><div class="k12 G"><b>0</b></div><div class="k13"><b>0</b></div></div>
<div class="r" style="top:1992px"><div class="k0"><b>76</b></div><div class="k1" style="color:#974706"><b>Oppo2989</b></div><div class="k2 B"></div><div class="k3 G"><b>19,25</b></div><div class="k4 B"></div><div class="k5 G"></div><div class="k6 B"></div><div class="k7 G"></div><div class="k8 B"></div><div class="k9 G"></div><div class="k10 B"></div><div class="k11 G"></div><div class="k12 G"><b>0</b></div><div class="k13"><b>0</b></div></div>
<div class="r" style="top:2017px"><div class="k0"><b>77</b></div><div class="k1" style="color:#000000"><b>kudangutd</b></div><div class="k2 G"></div><div class="k3 B"><b>89,98</b></div><div class="k4 G"></div><div class="k5 B"></div><div class="k6 G"></div><div class="k7 B"></div><div class="k8 G"></div><div class="k9 B"></div><div class="k10 G"></div><div class="k11 B"></div><div class="k12 G"><b>0</b></div><div class="k13"><b>0</b></div></div>
<div class="r" style="top:2042px"><div class="k0"><b>78</b></div><div class="k1" style="color:#000000"><b>lodetoantoach2021</b></div><div class="k2 B"></div><div class="k3 G"><b>92,98</b></div><div class="k4 B"></div><div class="k5 G"></div><div class="k6 B"></div><div class="k7 B"></div><div class="k8 G"></div><div class="k9 B"></div><div class="k10 G"></div><div class="k11 B"></div><div class="k12 G"><b>0</b></div><div class="k13"><b>0</b></div></div>
<div class="r" style="top:2067px"><div class="k0"><b>79</b></div><div class="k1" style="color:#974706"><b>Bemai2k</b></div><div class="k2 G"></div><div class="k3 G"></div><div class="k4 G"><b>65,21</b></div><div class="k5 B"></div><div class="k6 G"></div><div class="k7 B"></div><div class="k8 G"></div><div class="k9 B"></div><div class="k10 G"></div><div class="k11 B"></div><div class="k12 G"><b>0</b></div><div class="k13"><b>0</b></div></div>
<div class="r" style="top:2092px"><div class="k0"><b>80</b></div><div class="k1" style="color:#974706"><b>Rex0104</b></div><div class="k2 G"></div><div class="k3 B"></div><div class="k4 G"></div><div class="k5 B"><b>16,61</b></div><div class="k6 G"></div><div class="k7 B"></div><div class="k8 G"><b>29,92</b></div><div class="k9 B"></div><div class="k10 G"></div><div class="k11 B"></div><div class="k12 B"><b>0</b></div><div class="k13"><b>0</b></div></div>
<div class="r" style="top:2117px"><div class="k0"><b>81</b></div><div class="k1" style="color:#974706"><b>traitimsat79</b></div><div class="k2 B"></div><div class="k3 G"></div><div class="k4 B"></div><div class="k5 G"></div><div class="k6 B"><b>16,61</b></div><div class="k7 G"></div><div class="k8 B"></div><div class="k9 G"></div><div class="k10 B"></div><div class="k11 G"></div><div class="k12 G"><b>0</b></div><div class="k13"><b>0</b></div></div>
<svg style="position:absolute;left:0;top:0" width="224" height="88" viewBox="0 0 224 88">
<g stroke="#fff" stroke-width="0.7">
<ellipse cx="31" cy="31" rx="11.2" ry="20.6" fill="#E8202A"/>
<ellipse cx="48.8" cy="31" rx="11.2" ry="20.6" fill="#3C5BA9"/>
<ellipse cx="67" cy="31" rx="11.2" ry="20.6" fill="#F39522"/>
<ellipse cx="85.1" cy="31" rx="11.2" ry="20.6" fill="#16924A"/>
<ellipse cx="103.4" cy="31" rx="11.2" ry="20.6" fill="#18AEE6"/>
<ellipse cx="123.3" cy="31" rx="12.6" ry="20.6" fill="#8E4CA0"/>
</g>
<g fill="#fff" stroke="#fff" stroke-width="0.6" font-family="Liberation Sans" font-size="35" text-anchor="middle">
<text transform="translate(32.3,43.8) scale(0.62,1)">K</text>
<text transform="translate(49.3,43.8) scale(0.62,1)">E</text>
<text transform="translate(69,43.8) scale(0.62,1)">T</text>
<text transform="translate(86.6,43.8) scale(0.62,1)">Q</text>
<text transform="translate(104.2,43.8) scale(0.62,1)">U</text>
<text transform="translate(123.6,43.8) scale(0.62,1)">A</text>
</g>
<text transform="translate(137.8,44) scale(0.67,1)" font-family="Liberation Sans" font-size="35" fill="#000" stroke="#000" stroke-width="0.9">.net</text>
<text transform="translate(16.8,68.8) scale(0.63,1)" font-family="Liberation Sans" font-size="15.1" fill="#1a1a1a" stroke="#1a1a1a" stroke-width="0.3">Trang kết quả xổ số lớn nhất Việt Nam</text>
</svg>
<div style="left:1px;top:85px;width:1px;height:4px;background:#31849B"></div></body></html>
